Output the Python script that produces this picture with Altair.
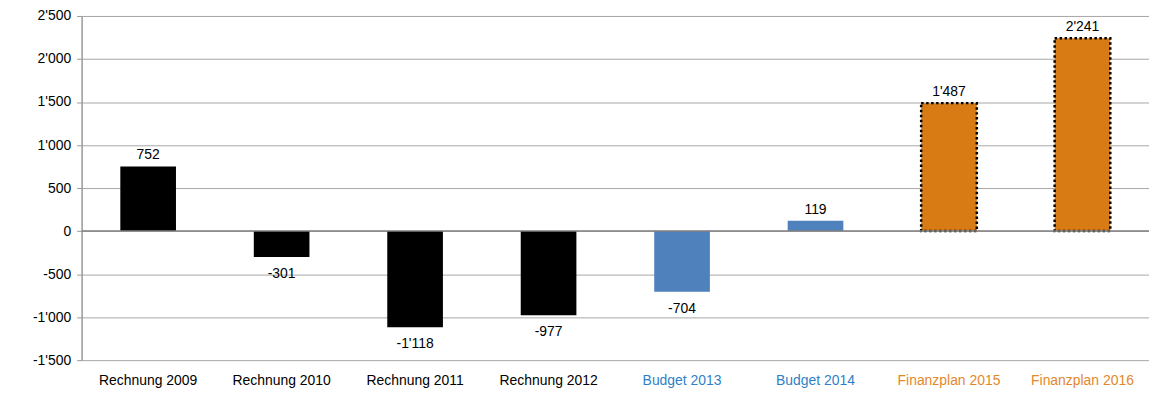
import altair as alt
import pandas as pd

categories = ["Rechnung 2009", "Rechnung 2010", "Rechnung 2011", "Rechnung 2012",
              "Budget 2013", "Budget 2014", "Finanzplan 2015", "Finanzplan 2016"]
values = [752, -301, -1118, -977, -704, 119, 1487, 2241]
groups = ["Rechnung", "Rechnung", "Rechnung", "Rechnung",
          "Budget", "Budget", "Finanzplan", "Finanzplan"]
y_ticks = [-1500, -1000, -500, 0, 500, 1000, 1500, 2000, 2500]

df = pd.DataFrame({"cat": categories, "value": values, "group": groups})

fmt = "replace(replace(format(datum.value, ','), ',', \"'\"), '\u2212', '-')"

x_enc = alt.X("cat:N", sort=categories, title=None,
              scale=alt.Scale(paddingInner=0.583, paddingOuter=0.29),
              axis=alt.Axis(labelAngle=0, domain=False, ticks=False, labelPadding=13,
                            labelFont="Liberation Sans", labelFontSize=14,
                            labelColor={"expr": "indexof(datum.value,'Budget')>=0 ? '#2F7FC8' : (indexof(datum.value,'Finanzplan')>=0 ? '#E3872C' : '#000000')"}))
y_scale = alt.Scale(domain=[-1500, 2500], nice=False)
y_axis = alt.Axis(values=y_ticks, labelExpr=fmt, title=None, grid=True,
                  gridColor="#A6A6A6", gridWidth=1, domainColor="#999999", domainWidth=1.5,
                  tickColor="#999999", tickSize=5, labelPadding=6,
                  labelFont="Liberation Sans", labelFontSize=14, labelColor="#000000")

base = alt.Chart(df)

bars = base.mark_bar().encode(
    x=x_enc,
    y=alt.Y("value:Q", scale=y_scale, axis=y_axis),
    color=alt.Color("group:N", legend=None,
                    scale=alt.Scale(domain=["Rechnung", "Budget", "Finanzplan"],
                                    range=["#000000", "#4F81BD", "#D97B15"])),
    stroke=alt.condition("datum.group == 'Finanzplan'", alt.value("#000000"), alt.value(None)),
    strokeWidth=alt.condition("datum.group == 'Finanzplan'", alt.value(2.5), alt.value(0)),
    strokeDash=alt.condition("datum.group == 'Finanzplan'", alt.value([2.5, 2.5]), alt.value([1, 0])),
)

zero = alt.Chart(pd.DataFrame({"z": [0]})).mark_rule(color="#808080", strokeWidth=1.5).encode(
    y=alt.Y("z:Q", scale=y_scale))

pos = base.transform_filter("datum.value >= 0").transform_calculate(
    label=fmt).mark_text(dy=-11, font="Liberation Sans", fontSize=14, color="#000000").encode(
    x=alt.X("cat:N", sort=categories), y=alt.Y("value:Q", scale=y_scale), text="label:N")

neg = base.transform_filter("datum.value < 0").transform_calculate(
    label=fmt).mark_text(dy=17, font="Liberation Sans", fontSize=14, color="#000000").encode(
    x=alt.X("cat:N", sort=categories), y=alt.Y("value:Q", scale=y_scale), text="label:N")

chart = alt.layer(bars, zero, pos, neg).properties(
    width=1073, height=346,
    autosize=alt.AutoSizeParams(type="none"),
    padding={"left": 74, "top": 7, "right": 0, "bottom": 30},
).configure_view(stroke=None)

chart.save("out.html", embed_options={"renderer": "svg", "actions": False})
